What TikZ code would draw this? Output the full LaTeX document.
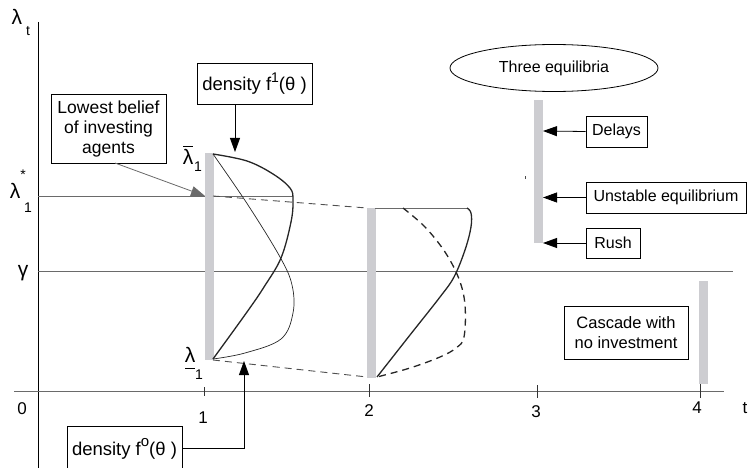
\documentclass[tikz,border=0pt]{standalone}
\usepackage{fontspec}
\setmainfont{Liberation Sans}
\usetikzlibrary{arrows.meta,shapes.geometric}

\definecolor{barfill}{HTML}{CDCDD1}
\definecolor{guide}{HTML}{6A6A6A}
\definecolor{dashgray}{HTML}{505050}

\tikzset{
  x=1pt, y=-1pt,
  labelbox/.style={draw=black, line width=0.8pt, inner sep=2pt, align=center,
    font=\fontsize{16}{19}\selectfont},
  densbox/.style={labelbox, font=\fontsize{18.5}{20}\selectfont},
  axislbl/.style={inner sep=0pt, font=\fontsize{17}{17}\selectfont},
  greek/.style={inner sep=0pt, font=\fontsize{21}{21}\selectfont},
  subs/.style={inner sep=0pt, font=\fontsize{14}{14}\selectfont},
  bar/.style={fill=barfill, draw=none},
  guideline/.style={draw=guide, line width=0.9pt},
  pointer/.style={line width=0.8pt, -{Triangle[length=14pt,width=10pt]}},
  thickcurve/.style={line width=1.3pt, black!85},
  thincurve/.style={line width=0.7pt, black!85},
  dashline/.style={draw=dashgray, line width=0.9pt, dash pattern=on 7pt off 5pt},
  tickmark/.style={line width=0.9pt, black!80},
}

\begin{document}
\begin{tikzpicture}
\useasboundingbox (0,0) rectangle (750,468);
\clip (0,0) rectangle (750,468);

% axes
\coordinate (yaxtop) at (38,22);
\coordinate (yaxbot) at (38,470);
\coordinate (xaxl) at (14,391);
\coordinate (xaxr) at (724,391);
\draw[line width=0.9pt] (yaxtop) -- (yaxbot);
\draw[guideline] (xaxl) -- (xaxr);

% ticks
\foreach \tx/\ta/\tb in {204/387/396, 369/384/397, 537/385/398, 700/383/398}
  \draw[tickmark] (\tx,\ta) -- (\tx,\tb);

% axis labels
\node[axislbl] (l0) at (22,409) {0};
\node[axislbl] (l1) at (203,418) {1};
\node[axislbl] (l2) at (369,411) {2};
\node[axislbl] (l3) at (536,412) {3};
\node[axislbl] (l4) at (697,408) {4};
\node[axislbl] (lt) at (745,408) {t};

% vertical axis labels
\node[greek] (lamt) at (17,17) {λ};
\node[subs] (lamtsub) at (28,31) {t};
\node[greek] (lamstar) at (15,191) {λ};
\node[subs] (lamstarsup) at (23,175) {*};
\node[subs] (lamstarsub) at (28,208) {1};
\node[greek] (gam) at (23,273) {γ};

% reference levels
\coordinate (starL) at (38,196);
\coordinate (starR) at (293,196);
\coordinate (gamL) at (38,271);
\coordinate (gamR) at (733,271);
\draw[guideline] (starL) -- (starR);
\draw[guideline] (gamL) -- (gamR);

% bars
\fill[bar] (205,153) rectangle (214,360);
\fill[bar] (367,208) rectangle (376,378);
\fill[bar] (534,100) rectangle (543,243);
\fill[bar] (699,281) rectangle (708,384);

% bar end labels at t=1
\node[greek] (lamhi) at (188,157) {λ};
\draw[line width=0.8pt] (183,146.5) -- (193,146.5);
\node[subs] (lamhisub) at (198,167) {1};
\node[greek] (lamlo) at (190,355) {λ};
\draw[line width=0.8pt] (185,368) -- (195,368);
\node[subs] (lamlosub) at (199,375) {1};

% densities at t=1
\coordinate (top1) at (213,154);
\coordinate (bot1) at (213,359);
\draw[thickcurve] plot[smooth, tension=0.6] coordinates
  {(213,154) (247,161) (273,174) (290,188) (293,200) (291,222) (281,258) (264,287) (247,312) (213,359)};
\draw[thincurve] plot[smooth, tension=0.6] coordinates
  {(213,154) (248,205) (280,257) (292,285) (293,313) (281,339) (245,353) (213,359)};

% dashed links between t=1 and t=2
\draw[dashline] (213,196) -- (367,208);
\draw[dashline] (213,360) -- (367,377);

% densities at t=2
\draw[guideline] (375,208) -- (468,208);
\draw[thickcurve] plot[smooth, tension=0.6] coordinates
  {(377,377) (410,335) (440,297) (454,277) (465,250) (471,227) (471,213) (467,208)};
\draw[thickcurve, dash pattern=on 7pt off 5pt] plot[smooth, tension=0.6] coordinates
  {(403,208) (425,227) (445,252) (459,279) (465,305) (464,337) (456,348) (440,357) (410,368) (377,377)};

% callout boxes
\node[densbox, minimum width=115pt, minimum height=41pt] (f1box) at (254.5,83.5)
  {density f\raisebox{8pt}{\fontsize{14}{14}\selectfont 1}(θ )};
\node[labelbox, minimum width=115pt, minimum height=69pt, font=\fontsize{17.5}{20}\selectfont] (lowbox) at (108.5,128.5)
  {Lowest belief\\of investing\\agents};
\node[draw=black, line width=0.8pt, ellipse, minimum width=208pt, minimum height=47pt,
  inner sep=0pt, font=\fontsize{16}{19}\selectfont] (eqell) at (554,68) {Three equilibria};
\node[labelbox, minimum width=61pt, minimum height=31pt] (delbox) at (616.5,131.5) {Delays};
\node[labelbox, minimum width=160pt, minimum height=31pt] (unsbox) at (666,197.5) {Unstable equilibrium};
\node[labelbox, minimum width=54pt, minimum height=30pt] (rushbox) at (613,243) {Rush};
\node[labelbox, minimum width=124pt, minimum height=53pt, font=\fontsize{16.5}{19.5}\selectfont] (casbox) at (626,332.5) {Cascade with\\no investment};
\node[densbox, minimum width=115pt, minimum height=46pt] (f0box) at (124.5,449)
  {density f\raisebox{9pt}{\fontsize{15}{15}\selectfont o}(θ )};

% pointers
\coordinate (f1tip) at (235,152);
\coordinate (lowtip) at (205,196);
\coordinate (lowstart) at (115,163);
\coordinate (deltip) at (543,131);
\coordinate (unstip) at (543,197.5);
\coordinate (rushtip) at (543,243);
\coordinate (f0corner) at (244,448);
\coordinate (f0tip) at (244,361);
\draw[pointer] (f1box.south -| f1tip) -- (f1tip);
\draw[pointer, draw=guide] (lowstart) -- (lowtip);
\draw[pointer] (delbox.west) -- (deltip);
\draw[pointer] (unsbox.west) -- (unstip);
\draw[pointer] (rushbox.west) -- (rushtip);
\draw[pointer] (f0box.east |- f0corner) -- (f0corner) -- (f0tip);

% small stray mark
\draw[line width=0.8pt, black!70] (525,176.5) -- (525,179.5);
\end{tikzpicture}
\end{document}
